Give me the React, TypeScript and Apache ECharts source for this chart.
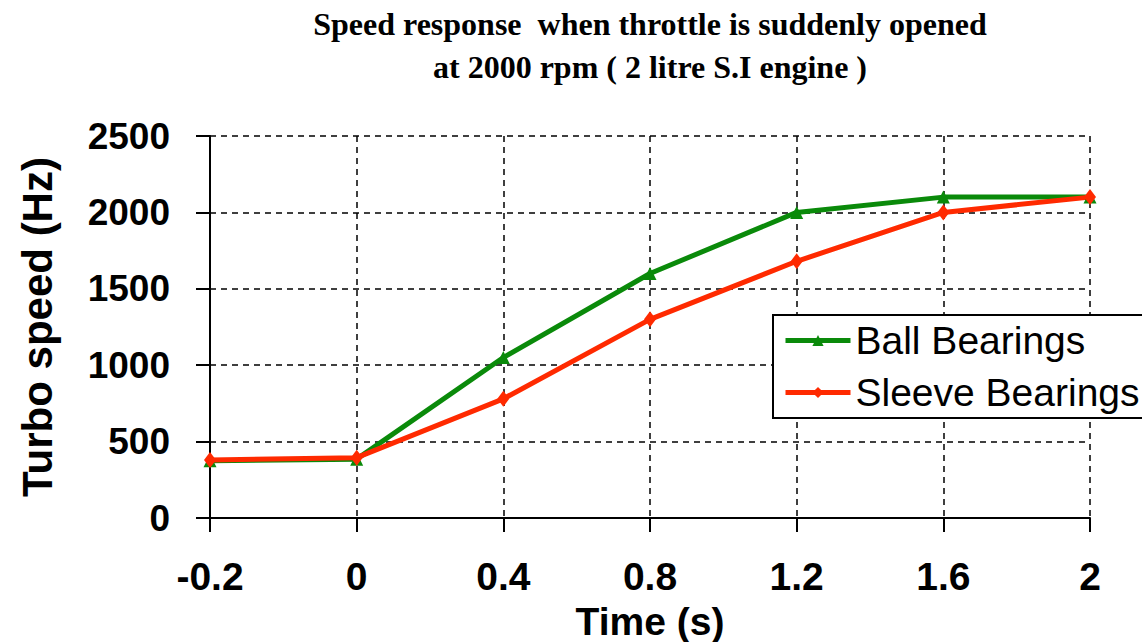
import React, { useEffect, useRef } from "react";
import * as echarts from "echarts";

const categories = ["-0.2", "0", "0.4", "0.8", "1.2", "1.6", "2"];
const ballBearings = [375, 385, 1050, 1600, 2000, 2100, 2100];
const sleeveBearings = [380, 395, 780, 1300, 1680, 2000, 2100];
const yTicks = { min: 0, max: 2500, interval: 500 };

export default function App() {
  const ref = useRef<HTMLDivElement>(null);
  useEffect(() => {
    if (!ref.current) return;
    const chart = echarts.init(ref.current, undefined, { renderer: "svg" });
    const sans = "'Liberation Sans', Arial, sans-serif";
    chart.setOption({
      animation: false,
      backgroundColor: "#ffffff",
      title: {
        text: "Speed response  when throttle is suddenly opened\nat 2000 rpm ( 2 litre S.I engine )",
        left: 645,
        top: -3,
        textAlign: "center",
        textStyle: {
          fontFamily: "'Liberation Serif', 'Times New Roman', serif",
          fontWeight: "bold",
          fontSize: 32,
          lineHeight: 43,
          color: "#000",
        },
      },
      grid: { left: 210, right: 52, top: 136, bottom: 124, outerBoundsMode: "none" },
      legend: {
        orient: "vertical",
        left: 773,
        top: 315,
        backgroundColor: "#fff",
        borderColor: "#000",
        borderWidth: 2,
        borderRadius: 0,
        padding: [6, 10, 6, 10],
        itemWidth: 65,
        itemHeight: 14,
        itemGap: 13,
        lineStyle: { width: 5 },
        textStyle: { fontFamily: sans, fontSize: 39, color: "#000" },
        data: ["Ball Bearings", "Sleeve Bearings"],
      },
      xAxis: {
        type: "category",
        data: categories,
        boundaryGap: false,
        name: "Time (s)",
        nameLocation: "middle",
        nameGap: 84,
        nameMoveOverlap: false,
        nameTextStyle: {
          fontFamily: sans,
          fontSize: 39,
          fontWeight: "bold",
          color: "#000",
          verticalAlign: "top",
          lineHeight: 38,
        },
        axisLine: { lineStyle: { color: "#000", width: 2 } },
        axisTick: { show: true, length: 14, alignWithLabel: true, lineStyle: { color: "#000", width: 2 } },
        axisLabel: {
          margin: 42,
          fontFamily: sans,
          fontSize: 39,
          lineHeight: 32,
          fontWeight: "bold",
          color: "#000",
        },
        splitLine: { show: true, lineStyle: { color: "#000", width: 1.5, type: [6, 5] } },
      },
      yAxis: {
        type: "value",
        min: yTicks.min,
        max: yTicks.max,
        interval: yTicks.interval,
        name: "Turbo speed (Hz)",
        nameLocation: "middle",
        nameGap: 152,
        nameMoveOverlap: false,
        nameTextStyle: { fontFamily: sans, fontSize: 42, fontWeight: "bold", color: "#000" },
        axisLine: { show: true, lineStyle: { color: "#000", width: 2 } },
        axisTick: { show: true, length: 14, lineStyle: { color: "#000", width: 2 } },
        axisLabel: {
          margin: 40,
          fontFamily: sans,
          fontSize: 37,
          fontWeight: "bold",
          color: "#000",
          formatter: (v: number) => String(v),
        },
        splitLine: { show: true, lineStyle: { color: "#000", width: 1.5, type: [6, 5] } },
      },
      series: [
        {
          name: "Ball Bearings",
          type: "line",
          data: ballBearings,
          symbol: "triangle",
          symbolSize: 13,
          lineStyle: { color: "#0a8a0a", width: 5 },
          itemStyle: { color: "#0a8a0a" },
        },
        {
          name: "Sleeve Bearings",
          type: "line",
          data: sleeveBearings,
          symbol: "diamond",
          symbolSize: [12, 16],
          lineStyle: { color: "#ff2a00", width: 5 },
          itemStyle: { color: "#ff2a00" },
        },
      ],
    });
    return () => chart.dispose();
  }, []);
  return (
    <div
      ref={ref}
      style={{ position: "absolute", left: 0, top: 0, width: 1142, height: 642, background: "#fff" }}
    />
  );
}
